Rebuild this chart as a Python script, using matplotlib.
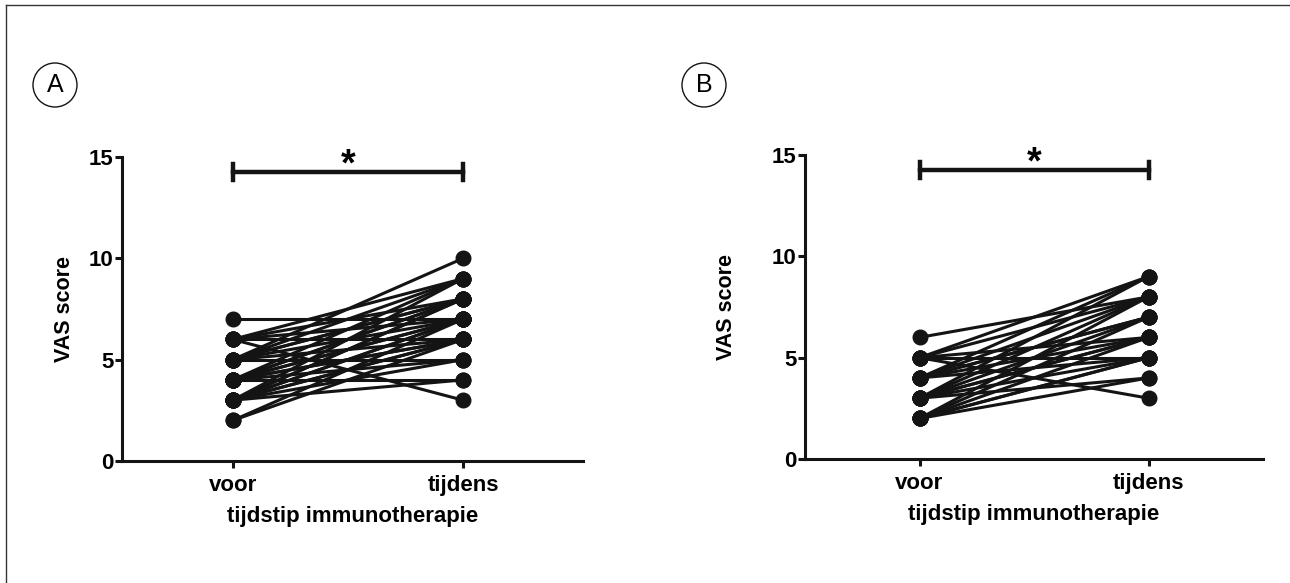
import numpy as np
import matplotlib
matplotlib.use('Agg')
import matplotlib.pyplot as plt
from matplotlib.patches import Ellipse
from matplotlib.lines import Line2D

# paired VAS scores (voor -> tijdens)
groups = ['voor', 'tijdens']
yticks = [0, 5, 10, 15]

a_voor = [7, 6, 6, 6, 6, 6, 5, 5, 5, 5, 5, 5, 5, 4, 4, 4, 4, 4, 4, 4, 4, 4,
          3, 3, 3, 3, 3, 3, 3, 3, 3, 2, 2]
a_tijdens = [7, 9, 3, 8, 7, 6, 10, 9, 8, 7, 6, 5, 8, 9, 8, 8, 7, 7, 6, 6, 5, 4,
             8, 8, 7, 7, 6, 6, 5, 4, 9, 7, 6]

b_voor = [6, 5, 5, 5, 5, 5, 4, 4, 4, 4, 4, 4, 3, 3, 3, 3, 3, 3, 3, 2, 2, 2, 2, 2, 2]
b_tijdens = [8, 9, 8, 5, 3, 6, 9, 7, 5, 6, 8, 7, 9, 7, 6, 5, 4, 8, 6, 5, 4, 7, 6, 8, 5]

sig_y = 14.26

plt.rcParams['font.family'] = ['Liberation Sans', 'DejaVu Sans']
INK = '#141414'

W, H = 1290, 583
fig = plt.figure(figsize=(W / 100, H / 100), dpi=100)
fig.patch.set_facecolor('white')


def px_axes(left, right, bottom, top):
    # axes box given in pixel coords of the figure (y from top)
    return fig.add_axes([left / W, (H - bottom) / H, (right - left) / W, (bottom - top) / H])


def draw_panel(ax, voor, tijdens, xlim, ylabel_pad):
    for v, t in zip(voor, tijdens):
        ax.plot([1, 2], [v, t], color=INK, lw=2.2, marker='o', ms=10.5,
                mfc=INK, mec=INK, clip_on=False, zorder=3)
    ax.set_xlim(*xlim)
    ax.set_ylim(0, 15)
    ax.set_xticks([1, 2])
    ax.set_xticklabels(groups)
    ax.set_yticks(yticks)
    for s in ['top', 'right']:
        ax.spines[s].set_visible(False)
    for s in ['left', 'bottom']:
        ax.spines[s].set_linewidth(2.2)
        ax.spines[s].set_color(INK)
    ax.tick_params(width=2.2, length=5, color=INK, labelsize=16)
    ax.tick_params(axis='x', pad=5)
    ax.tick_params(axis='y', pad=1)
    for lab in ax.get_xticklabels() + ax.get_yticklabels():
        lab.set_fontweight('bold')
    ax.set_ylabel('VAS score', fontsize=15.5, fontweight='bold', labelpad=ylabel_pad)
    ax.set_xlabel('tijdstip immunotherapie', fontsize=16, fontweight='bold', labelpad=7)
    # significance bar
    ax.plot([1, 2], [sig_y, sig_y], color=INK, lw=3.2, clip_on=False)
    for x in [1, 2]:
        ax.plot([x, x], [sig_y - 0.4, sig_y + 0.4], color=INK, lw=3.2, clip_on=False)
    ax.text(1.5, sig_y - 0.55, '*', ha='center', va='bottom', fontsize=27, fontweight='bold')


ax_a = px_axes(122, 583, 461, 157)
draw_panel(ax_a, a_voor, a_tijdens, (0.52, 2.52), 10)

ax_b = px_axes(805, 1263, 459, 155)
draw_panel(ax_b, b_voor, b_tijdens, (0.5, 2.5), 25)

# circled panel letters
for cx, cy, letter in [(55, 85, 'A'), (704, 85, 'B')]:
    fig.patches.append(Ellipse((cx / W, 1 - cy / H), 44 / W, 44 / H, transform=fig.transFigure,
                               fill=False, ec=INK, lw=1.0))
    fig.text(cx / W, 1 - cy / H, letter, ha='center', va='center', fontsize=18)

# frame lines (top and left)
fig.lines.append(Line2D([6 / W, 1], [1 - 5 / H, 1 - 5 / H], transform=fig.transFigure,
                        color='#333333', lw=1.0))
fig.lines.append(Line2D([6 / W, 6 / W], [0, 1 - 5 / H], transform=fig.transFigure,
                        color='#333333', lw=1.0))

fig.savefig('out.png', dpi=100)
